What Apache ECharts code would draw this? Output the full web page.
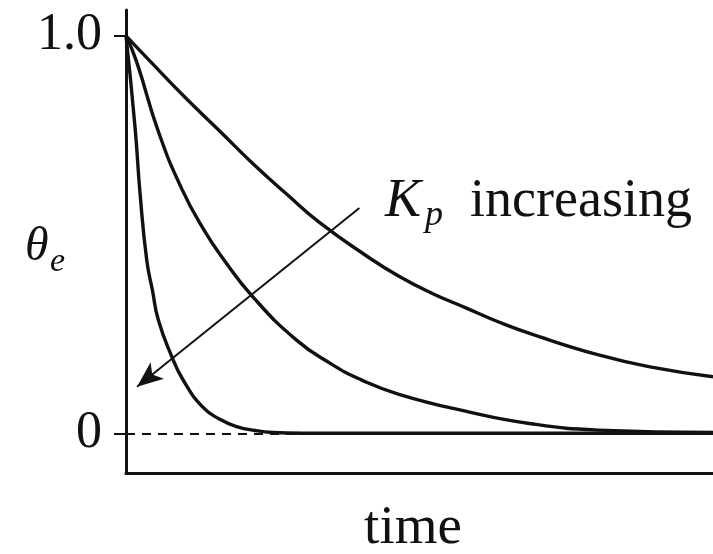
<!DOCTYPE html>
<html>
<head>
<meta charset="utf-8">
<script src="https://cdn.jsdelivr.net/npm/echarts@6/dist/echarts.min.js"></script>
<style>
html,body{margin:0;padding:0;background:#fff;}
#chart{width:713px;height:554px;}
</style>
</head>
<body>
<div id="chart"></div>
<script>
// Data (time in arbitrary units, theta_e normalised)
const slowTimes = [0, 0.45, 1.0, 1.6, 2.15, 2.75, 3.3, 4.1, 4.65, 5.2, 5.8, 6.35, 6.9, 8.05, 9, 10];
const slowValues = [1, 0.93, 0.846, 0.76, 0.68, 0.60, 0.53, 0.446, 0.395, 0.353, 0.315, 0.28, 0.25, 0.197, 0.165, 0.142];

const midTimes = [0, 0.18, 0.55, 0.95, 1.33, 1.67, 2.15, 2.9, 3.5, 4.0, 4.65, 5.8, 6.9, 8.05, 10];
const midValues = [1, 0.935, 0.76, 0.615, 0.511, 0.436, 0.345, 0.235, 0.174, 0.135, 0.098, 0.055, 0.024, 0.008, 0.002];

const fastTimes = [0, 0.154, 0.239, 0.353, 0.45, 0.551, 0.78, 0.973, 1.3, 1.6, 1.9, 2.2, 2.5, 3, 10];
const fastValues = [1, 0.77, 0.604, 0.436, 0.36, 0.285, 0.193, 0.134, 0.067, 0.035, 0.016, 0.007, 0.002, 0, 0];

const yTickValues = [0, 1];
const yTickLabels = ['0', '1.0'];

// Arrow annotation ("Kp increasing"), start and tip in data coordinates
const arrowStart = [3.976, 0.567];
const arrowTip = [0.188, 0.117];

const INK = '#111111';
const SERIF = '"Liberation Serif", "DejaVu Serif", serif';

function zip(ts, vs) { return ts.map((t, i) => [t, vs[i]]); }

const chart = echarts.init(document.getElementById('chart'), null, {renderer: 'canvas'});

const curveStyle = {color: INK, width: 3.4};

chart.setOption({
  animation: false,
  backgroundColor: '#ffffff',
  grid: {left: 126, right: 0, top: 10, bottom: 81, containLabel: false},
  xAxis: {
    type: 'value', min: 0, max: 10,
    axisLine: {show: true, onZero: false, lineStyle: {color: INK, width: 3}},
    axisTick: {show: false},
    axisLabel: {show: false},
    splitLine: {show: false}
  },
  yAxis: {
    type: 'value', min: -0.1, max: 1.065,
    axisLine: {show: true, onZero: false, lineStyle: {color: INK, width: 3}},
    axisTick: {show: true, customValues: yTickValues, length: 12, lineStyle: {color: INK, width: 2}},
    axisLabel: {
      show: true, customValues: yTickValues, margin: 24,
      color: INK, fontFamily: SERIF, fontSize: 52,
      formatter: function (v) {
        const i = yTickValues.indexOf(v);
        return i >= 0 ? yTickLabels[i] : '';
      }
    },
    splitLine: {show: false}
  },
  series: [
    {
      type: 'line', data: zip(slowTimes, slowValues), showSymbol: false,
      smooth: 0.5, lineStyle: curveStyle, z: 3,
      markLine: {
        silent: true, symbol: ['none', 'none'],
        label: {show: false},
        lineStyle: {color: INK, width: 2, type: [9, 7]},
        data: [{yAxis: 0}]
      }
    },
    {
      type: 'line', data: zip(midTimes, midValues), showSymbol: false,
      smooth: 0.5, lineStyle: curveStyle, z: 3
    },
    {
      type: 'line', data: zip(fastTimes, fastValues), showSymbol: false,
      smooth: 0.5, lineStyle: curveStyle, z: 3,
      markLine: {
        silent: true, symbol: ['none', 'arrow'], symbolSize: [16, 26],
        label: {show: false},
        lineStyle: {color: INK, width: 2, type: 'solid'},
        data: [[{coord: arrowStart}, {coord: arrowTip}]]
      }
    }
  ],
  graphic: [
    {type: 'text', x: 25, y: 247, style: {text: 'θ', fill: INK, font: 'italic 48px ' + SERIF, textVerticalAlign: 'middle'}},
    {type: 'text', x: 50, y: 262, style: {text: 'e', fill: INK, font: 'italic 34px ' + SERIF, textVerticalAlign: 'middle'}},
    {type: 'text', x: 413, y: 529, style: {text: 'time', fill: INK, font: '55px ' + SERIF, textAlign: 'center', textVerticalAlign: 'middle'}},
    {type: 'text', x: 385, y: 202, style: {text: 'K', fill: INK, font: 'italic 54px ' + SERIF, textVerticalAlign: 'middle'}},
    {type: 'text', x: 425, y: 216, style: {text: 'p', fill: INK, font: 'italic 36px ' + SERIF, textVerticalAlign: 'middle'}},
    {type: 'text', x: 470, y: 202, style: {text: 'increasing', fill: INK, font: '54px ' + SERIF, textVerticalAlign: 'middle'}}
  ]
});
</script>
</body>
</html>
